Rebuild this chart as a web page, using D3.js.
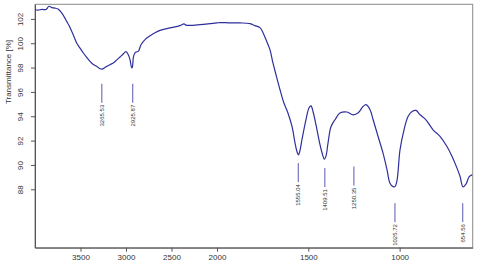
<!DOCTYPE html>
<html><head><meta charset="utf-8">
<script src="https://cdn.jsdelivr.net/npm/d3@7"></script>
<style>body{margin:0;background:#fff}svg{display:block}</style>
</head><body>
<script>
const wavenumbers = [4000,3967,3923,3879,3846,3813,3780,3747,3707,3681,3652,3626,3597,3571,3542,3505,3469,3434,3396,3363,3322,3286,3264,3242,3212,3176,3140,3104,3066,3033,3000,2975,2956,2937,2929,2920,2907,2890,2865,2835,2791,2744,2681,2626,2516,2407,2363,2341,2297,2187,2077,2000,1984,1929,1874,1819,1792,1765,1748,1732,1710,1694,1677,1655,1634,1612,1589,1573,1562,1554,1546,1535,1513,1496,1485,1474,1458,1436,1425,1412,1403,1392,1376,1354,1327,1288,1255,1228,1200,1184,1162,1145,1118,1091,1069,1053,1036,1025,1014,998,976,954,932,910,888,856,817,779,741,713,686,669,653,636,620,603];
const transmittance = [102.75,102.72,102.78,102.77,103.04,102.93,102.89,102.81,102.49,102.19,101.80,101.45,100.98,100.54,100.02,99.60,99.20,98.86,98.51,98.28,98.10,97.91,97.88,97.95,98.10,98.24,98.38,98.61,98.87,99.10,99.31,99.06,98.65,97.97,98.07,98.79,99.14,99.28,99.33,99.88,100.30,100.57,100.87,101.06,101.26,101.45,101.59,101.49,101.47,101.53,101.61,101.67,101.70,101.67,101.67,101.61,101.45,101.28,100.87,100.30,99.47,98.40,97.42,96.18,95.11,94.29,93.14,91.82,91.08,90.83,91.16,92.07,93.71,94.70,94.86,94.37,93.30,91.66,91.00,90.48,90.75,91.82,93.14,93.71,94.26,94.35,94.12,94.26,94.81,94.95,94.54,93.71,92.34,90.97,89.60,88.50,88.22,88.24,88.77,91.24,92.89,93.98,94.39,94.48,94.12,93.71,92.89,92.34,91.51,90.69,89.74,89.05,88.20,88.44,89.02,89.18];
const peakLabels = ["3265.53","2925.87","1555.04","1409.51","1250.35","1025.72","654.56"];
const peakPositions = [3265.53,2925.87,1555.04,1409.51,1250.35,1025.72,654.56];
const peakLabelLevels = [96.67,96.67,90.15,89.74,89.87,86.86,86.86];
const xTicks = [3500,3000,2500,2000,1500,1000];
const yTicks = [88,90,92,94,96,98,100,102];

const W = 480, H = 268;
const L = 35, R = 472.7, T = 4.3, B = 247.7;
const svg = d3.select("body").append("svg").attr("width", W).attr("height", H);
const font = "'Liberation Sans', Arial, sans-serif";

const x = d3.scaleLinear().domain([4000, 2000, 600]).range([L, 217, R]);
const y = d3.scaleLinear().domain([83.2, 103.2]).range([B, T]);

// frame
svg.append("rect").attr("x", L).attr("y", T).attr("width", R - L).attr("height", B - T)
  .attr("fill", "none").attr("stroke", "#8a8a8a").attr("stroke-width", 1);

// x axis
const gx = svg.append("g").attr("transform", `translate(0,${B})`)
  .call(d3.axisBottom(x).tickValues(xTicks).tickSize(4).tickSizeOuter(0).tickFormat(d3.format("d")));
gx.select(".domain").attr("stroke", "#555");
gx.selectAll(".tick line").attr("stroke", "#555");
gx.selectAll("text").attr("font-family", font).attr("font-size", 8).attr("fill", "#333").attr("y", 7).attr("dy", "0.71em");

// y axis
const gy = svg.append("g").attr("transform", `translate(${L},0)`)
  .call(d3.axisLeft(y).tickValues(yTicks).tickSize(4).tickSizeOuter(0));
gy.select(".domain").attr("stroke", "#555");
gy.selectAll(".tick line").attr("stroke", "#555");
gy.selectAll("text").attr("font-family", font).attr("font-size", 8).attr("fill", "#333")
  .attr("transform", "rotate(-90)").attr("x", 0).attr("y", -12).attr("dy", 0).attr("text-anchor", "middle");

// y label
svg.append("text").attr("transform", `translate(11,72) rotate(-90)`).attr("text-anchor", "middle")
  .attr("font-family", font).attr("font-size", 8).attr("fill", "#333").text("Transmittance [%]");

// curve
const pts = wavenumbers.map((w, i) => [w, transmittance[i]]);
svg.append("path").datum(pts)
  .attr("d", d3.line().x(d => x(d[0])).y(d => y(d[1])).curve(d3.curveCatmullRom.alpha(0.5)))
  .attr("fill", "none").attr("stroke", "#2f2f9c").attr("stroke-width", 1.2);

// peak labels
peakPositions.forEach((p, i) => {
  const px = x(p), py = y(peakLabelLevels[i]);
  svg.append("line").attr("x1", px).attr("x2", px).attr("y1", py).attr("y2", py + 19)
    .attr("stroke", "#2f2f9c").attr("stroke-width", 0.8);
  svg.append("text").attr("transform", `translate(${px + 2},${py + 21}) rotate(-90)`)
    .attr("text-anchor", "end").attr("font-family", font).attr("font-size", 6).attr("fill", "#333")
    .text(peakLabels[i]);
});
</script>
</body></html>
